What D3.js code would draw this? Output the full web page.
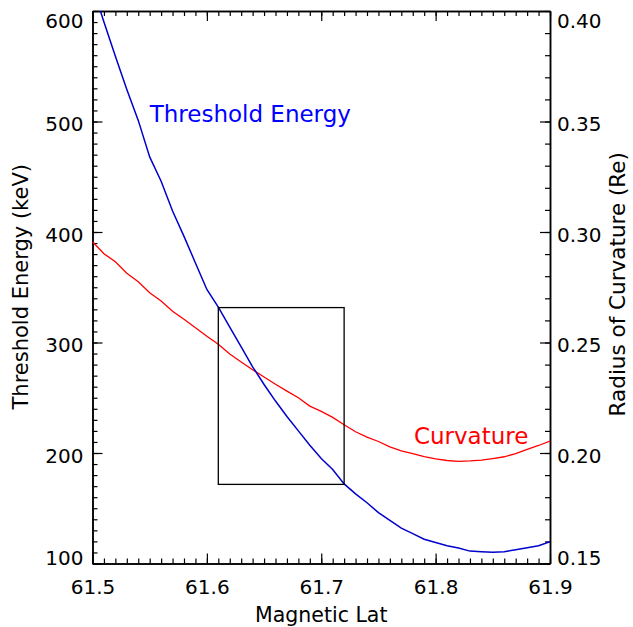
<!DOCTYPE html>
<html>
<head>
<meta charset="utf-8">
<script src="https://cdn.jsdelivr.net/npm/d3@7"></script>
<style>
  html, body { margin: 0; padding: 0; background: #fff; }
  svg { display: block; }
  text { font-family: "DejaVu Sans", sans-serif; }
</style>
</head>
<body>
<svg id="chart" width="633" height="627"></svg>
<script>
// ---- data ----
const magLat = [61.50, 61.51, 61.52, 61.53, 61.54, 61.55, 61.56, 61.57, 61.58, 61.59,
                61.60, 61.61, 61.62, 61.63, 61.64, 61.65, 61.66, 61.67, 61.68, 61.69,
                61.70, 61.71, 61.72, 61.73, 61.74, 61.75, 61.76, 61.77, 61.78, 61.79,
                61.80, 61.81, 61.82, 61.83, 61.84, 61.85, 61.86, 61.87, 61.88, 61.89, 61.90];
const thresholdEnergy = [622, 590, 559, 529, 501, 468, 446, 419, 396, 372,
                         348, 332, 314, 296, 278, 262, 247, 233, 220, 207,
                         195, 185, 172, 163, 155, 146, 139, 132, 127, 122,
                         119, 116, 114, 111.2, 110.7, 110.2, 110.7, 112.5, 114.3, 116, 119.7];
const curvature = [0.2956, 0.2902, 0.2865, 0.2813, 0.2775, 0.2725, 0.2688, 0.2641, 0.2605, 0.2567,
                   0.2528, 0.2492, 0.2448, 0.2412, 0.2377, 0.2344, 0.2311, 0.2280, 0.2250, 0.2212,
                   0.2188, 0.2161, 0.2128, 0.2096, 0.2072, 0.2052, 0.2028, 0.2010, 0.1997, 0.1984,
                   0.1973, 0.1966, 0.1962, 0.1964, 0.1968, 0.1975, 0.1983, 0.1997, 0.2016, 0.2034, 0.2054];
const boxLat = [61.61, 61.72];
const boxEnergy = [171.6, 331.6];
const xTicks = [61.5, 61.6, 61.7, 61.8, 61.9];
const xTickLabels = ["61.5", "61.6", "61.7", "61.8", "61.9"];
const yLeftTicks = [100, 200, 300, 400, 500, 600];
const yLeftTickLabels = ["100", "200", "300", "400", "500", "600"];
const yRightTicks = [0.15, 0.20, 0.25, 0.30, 0.35, 0.40];
const yRightTickLabels = ["0.15", "0.20", "0.25", "0.30", "0.35", "0.40"];
const seriesLabels = { energy: "Threshold Energy", curv: "Curvature" };
const titles = { x: "Magnetic Lat", yLeft: "Threshold Energy (keV)", yRight: "Radius of Curvature (Re)" };

// ---- layout ----
const L = 92.5, R = 550, T = 11, B = 563.5;
const svg = d3.select("#chart");

const x = d3.scaleLinear().domain([61.5, 61.9]).range([L, R]);
const yL = d3.scaleLinear().domain([100, 600]).range([B, T]);
const yR = d3.scaleLinear().domain([0.15, 0.40]).range([B, T]);

const xMinor = d3.range(0, 41).map(i => 61.5 + i * 0.01);
const yLMinor = d3.range(0, 51).map(i => 100 + i * 10);
const yRMinor = d3.range(0, 26).map(i => 0.15 + i * 0.01);

const axisStyle = g => {
  g.select(".domain").attr("stroke", "#000").attr("stroke-width", 1.5);
  g.selectAll(".tick line").attr("stroke", "#000").attr("stroke-width", 1.2);
  g.selectAll("text").attr("font-size", 20).attr("fill", "#000")
    .attr("font-family", "DejaVu Sans, sans-serif");
};

// bottom axis (minor + major)
svg.append("g").attr("transform", `translate(0,${B})`)
  .call(d3.axisBottom(x).tickValues(xMinor).tickSize(-5).tickFormat("").tickSizeOuter(0))
  .call(axisStyle);
svg.append("g").attr("transform", `translate(0,${B})`)
  .call(d3.axisBottom(x).tickValues(xTicks).tickSize(-10).tickPadding(16).tickSizeOuter(0)
    .tickFormat((d, i) => xTickLabels[i]))
  .call(axisStyle);

// top axis (ticks only)
svg.append("g").attr("transform", `translate(0,${T})`)
  .call(d3.axisTop(x).tickValues(xMinor).tickSize(-5).tickFormat("").tickSizeOuter(0))
  .call(axisStyle);
svg.append("g").attr("transform", `translate(0,${T})`)
  .call(d3.axisTop(x).tickValues(xTicks).tickSize(-10).tickFormat("").tickSizeOuter(0))
  .call(axisStyle);

// label vertical placement (end labels kept inside axis span)
const placeY = (sel, scale) => {
  sel.selectAll(".tick text").each(function(d) {
    const py = scale(d);
    let c = py + 2;
    c = Math.max(T + 9, Math.min(B - 6, c));
    d3.select(this).attr("y", c - py).attr("dy", "0.35em");
  });
};

// left axis
svg.append("g").attr("transform", `translate(${L},0)`)
  .call(d3.axisLeft(yL).tickValues(yLMinor).tickSize(-5).tickFormat("").tickSizeOuter(0))
  .call(axisStyle);
svg.append("g").attr("transform", `translate(${L},0)`)
  .call(d3.axisLeft(yL).tickValues(yLeftTicks).tickSize(-10).tickPadding(9).tickSizeOuter(0)
    .tickFormat((d, i) => yLeftTickLabels[i]))
  .call(axisStyle)
  .call(g => placeY(g, yL));

// right axis
svg.append("g").attr("transform", `translate(${R},0)`)
  .call(d3.axisRight(yR).tickValues(yRMinor).tickSize(-5).tickFormat("").tickSizeOuter(0))
  .call(axisStyle);
svg.append("g").attr("transform", `translate(${R},0)`)
  .call(d3.axisRight(yR).tickValues(yRightTicks).tickSize(-10).tickPadding(7).tickSizeOuter(0)
    .tickFormat((d, i) => yRightTickLabels[i]))
  .call(axisStyle)
  .call(g => placeY(g, yR));

// clip
svg.append("clipPath").attr("id", "plotclip")
  .append("rect").attr("x", L).attr("y", T).attr("width", R - L).attr("height", B - T);

const plot = svg.append("g").attr("clip-path", "url(#plotclip)");

// curvature line (red)
plot.append("path")
  .datum(magLat.map((d, i) => [d, curvature[i]]))
  .attr("fill", "none").attr("stroke", "#ff0000").attr("stroke-width", 1.3)
  .attr("d", d3.line().x(d => x(d[0])).y(d => yR(d[1])));

// threshold energy line (blue)
plot.append("path")
  .datum(magLat.map((d, i) => [d, thresholdEnergy[i]]))
  .attr("fill", "none").attr("stroke", "#0000cc").attr("stroke-width", 1.5)
  .attr("d", d3.line().x(d => x(d[0])).y(d => yL(d[1])));

// box
svg.append("rect")
  .attr("x", x(boxLat[0])).attr("y", yL(boxEnergy[1]))
  .attr("width", x(boxLat[1]) - x(boxLat[0]))
  .attr("height", yL(boxEnergy[0]) - yL(boxEnergy[1]))
  .attr("fill", "none").attr("stroke", "#000").attr("stroke-width", 1.3);

// series labels
svg.append("text").attr("x", x(61.55)).attr("y", yL(500))
  .attr("font-size", 23).attr("fill", "#0000ff").text(seriesLabels.energy);
svg.append("text").attr("x", x(61.781)).attr("y", yR(0.2042))
  .attr("font-size", 23).attr("fill", "#ff0000").text(seriesLabels.curv);

// axis titles
svg.append("text").attr("x", (L + R) / 2).attr("y", 622)
  .attr("text-anchor", "middle").attr("font-size", 20.5).attr("fill", "#000").text(titles.x);
svg.append("text")
  .attr("transform", `translate(28,${(T + B) / 2 - 0.5}) rotate(-90)`)
  .attr("text-anchor", "middle").attr("font-size", 21).attr("fill", "#000").text(titles.yLeft);
svg.append("text")
  .attr("transform", `translate(625,${(T + B) / 2 - 3}) rotate(-90)`)
  .attr("text-anchor", "middle").attr("font-size", 21.5).attr("fill", "#000").text(titles.yRight);
</script>
</body>
</html>
